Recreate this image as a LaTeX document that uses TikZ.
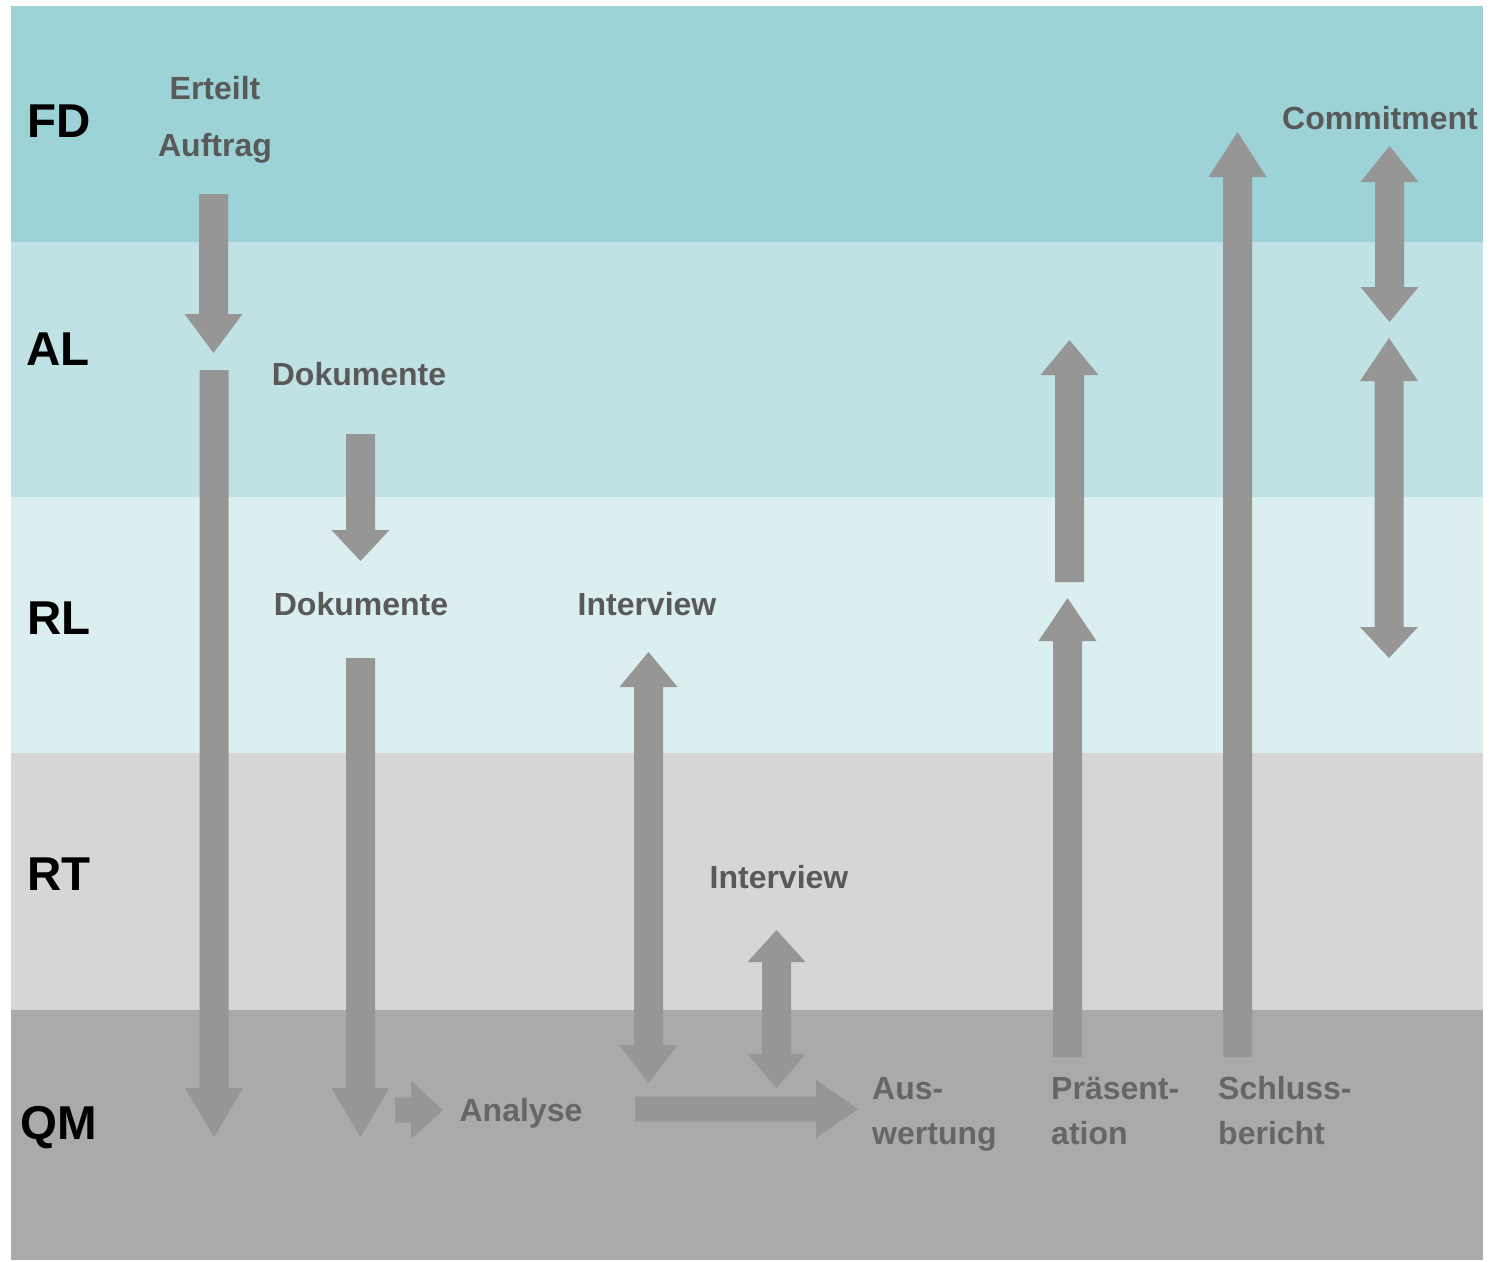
\documentclass[tikz,border=0pt]{standalone}
\usepackage{fontspec}
\setmainfont{Liberation Sans}
\definecolor{fdcol}{HTML}{9DD3D6}
\definecolor{alcol}{HTML}{C0E2E4}
\definecolor{rlcol}{HTML}{DBEFF0}
\definecolor{rtcol}{HTML}{D6D6D6}
\definecolor{qmcol}{HTML}{AAAAAA}
\definecolor{arrowgray}{HTML}{969696}
\definecolor{txtdark}{HTML}{595959}
\definecolor{txtqm}{HTML}{666666}
\newcommand{\sarrow}[4]{% x, tail y, head base y, tip y
  \fill[blockarrow] (#1-14.5,#2) -- (#1+14.5,#2) -- (#1+14.5,#3) -- (#1+29,#3) -- (#1,#4) -- (#1-29,#3) -- (#1-14.5,#3) -- cycle;}
\newcommand{\darrow}[5]{% x, tip1, base1, base2, tip2
  \fill[blockarrow] (#1,#2) -- (#1+29,#3) -- (#1+14.5,#3) -- (#1+14.5,#4) -- (#1+29,#4) -- (#1,#5) -- (#1-29,#4) -- (#1-14.5,#4) -- (#1-14.5,#3) -- (#1-29,#3) -- cycle;}
\newcommand{\harrow}[4]{% y, tail x, head base x, tip x
  \fill[blockarrow] (#2,#1-12.5) -- (#3,#1-12.5) -- (#3,#1-29) -- (#4,#1) -- (#3,#1+29) -- (#3,#1+12.5) -- (#2,#1+12.5) -- cycle;}
\begin{document}
\begin{tikzpicture}[x=1pt,y=-1pt,
  blockarrow/.style={fill=arrowgray,draw=none},
  lane/.style={font=\fontsize{47.5}{50}\selectfont\bfseries,text=black,inner sep=0pt,anchor=base},
  lbl/.style={font=\fontsize{32}{36}\selectfont\bfseries,text=txtdark,inner sep=0pt,anchor=base},
  qlbl/.style={font=\fontsize{32}{36}\selectfont\bfseries,text=txtqm,inner sep=0pt,anchor=base west}]
\useasboundingbox (0,0) rectangle (1491,1261);
% bands
\fill[fdcol] (11,6) rectangle (1483,242);
\fill[alcol] (11,242) rectangle (1483,497);
\fill[rlcol] (11,497) rectangle (1483,753);
\fill[rtcol] (11,753) rectangle (1483,1010);
\fill[qmcol] (11,1010) rectangle (1483,1260);
% arrows
\sarrow{213.5}{194}{314}{353}
\sarrow{214}{370}{1088}{1137}
\sarrow{360.5}{434}{530}{561}
\sarrow{360.5}{658}{1088}{1137}
\harrow{1110}{395}{411}{443}
\darrow{648.5}{652}{687}{1045}{1083}
\darrow{776.5}{930}{962}{1054}{1088}
\harrow{1109}{635}{816}{858}
\sarrow{1067.5}{1057}{641}{598}
\sarrow{1069.5}{582}{375}{340}
\sarrow{1237.5}{1057}{177}{132}
\darrow{1389.5}{146}{182}{287}{322}
\darrow{1389}{338}{381}{627}{658}
% lane labels
\node[lane] (fd) at (59,137) {FD};
\node[lane] (al) at (58,365) {AL};
\node[lane] (rl) at (59,634) {RL};
\node[lane] (rt) at (59,890) {RT};
\node[lane] (qm) at (58.5,1139) {QM};
% texts
\node[lbl] (erteilt) at (215,99) {Erteilt};
\node[lbl] (auftrag) at (215,156) {Auftrag};
\node[lbl] (dok1) at (359,385) {Dokumente};
\node[lbl] (dok2) at (361,615) {Dokumente};
\node[lbl] (int1) at (647,615) {Interview};
\node[lbl] (int2) at (779,888) {Interview};
\node[lbl] (commit) at (1380,129) {Commitment};
\node[qlbl,anchor=base] (analyse) at (521,1121) {Analyse};
\node[qlbl] (aus1) at (872,1099) {Aus-};
\node[qlbl] (aus2) at (872,1144) {wertung};
\node[qlbl] (pra1) at (1051,1099) {Präsent-};
\node[qlbl] (pra2) at (1051,1144) {ation};
\node[qlbl] (sch1) at (1218,1099) {Schluss-};
\node[qlbl] (sch2) at (1218,1144) {bericht};
\end{tikzpicture}
\end{document}
